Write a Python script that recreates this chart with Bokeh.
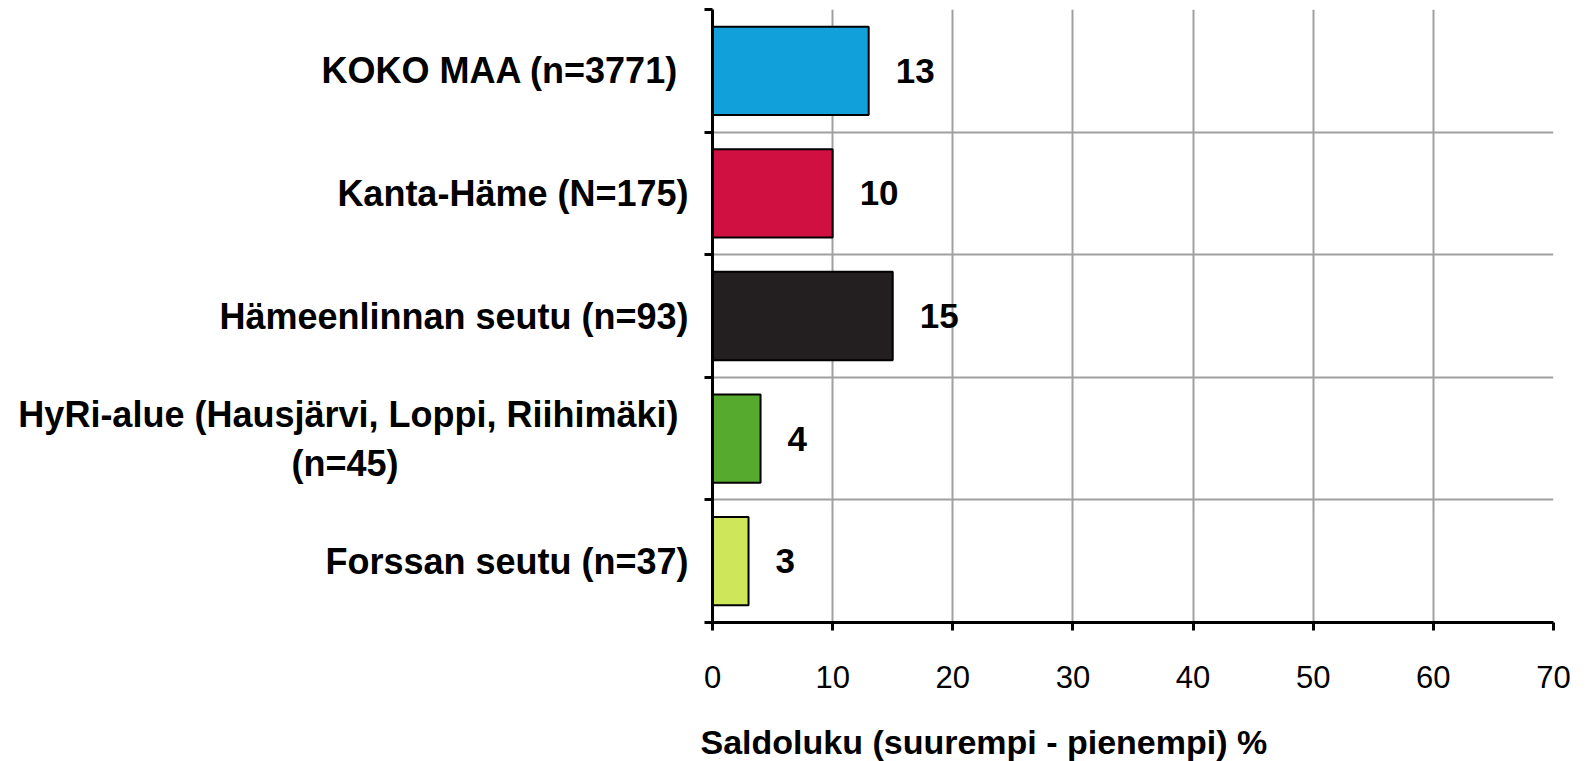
from bokeh.plotting import figure
from bokeh.models import Range1d, FixedTicker, LinearAxis, ColumnDataSource, Title
from bokeh.embed import file_html
from bokeh.resources import INLINE
from bokeh.core.properties import value

categories = [
    "KOKO MAA  (n=3771)",
    "Kanta-Häme (N=175)",
    "Hämeenlinnan seutu (n=93)",
    "HyRi-alue (Hausjärvi, Loppi,  Riihimäki)\n(n=45)",
    "Forssan seutu (n=37)",
]
values = [13, 10, 15, 4, 3]
colors = ["#12A0DA", "#CF1040", "#231F20", "#56AA2E", "#CEE65A"]
x_ticks = [0, 10, 20, 30, 40, 50, 60, 70]
x_title = "Saldoluku (suurempi - pienempi) %"

n = len(categories)
ypos = [n - i - 0.5 for i in range(n)]
labels = [str(v) for v in values]


def centered(label, pad=29):
    # centre the second line under the first (axis labels are right-aligned)
    lines = label.split("\n")
    if len(lines) == 1:
        return label
    return lines[0] + "\n" + lines[1] + "\u00a0" * pad


src = ColumnDataSource(dict(y=ypos, v=values, c=colors, t=labels))

p = figure(width=1582, height=761, output_backend="svg", toolbar_location=None,
           x_range=Range1d(0, 70), y_range=Range1d(0, n),
           min_border_left=712, min_border_right=29, min_border_top=9, min_border_bottom=139,
           outline_line_color=None)
p.xaxis.visible = False
p.yaxis.visible = False

p.hbar(y="y", right="v", left=0, height=0.72, fill_color="c", line_color="black",
       line_width=2, source=src)
p.text(x="v", y="y", text="t", x_offset=27, text_baseline="middle", text_align="left",
       text_font=value("Liberation Sans"), text_font_style="bold", text_font_size="35px",
       text_color="black", source=src)

# grid
p.xgrid.ticker = FixedTicker(ticks=x_ticks)
p.ygrid.ticker = FixedTicker(ticks=list(range(n + 1)))
for g in (p.xgrid, p.ygrid):
    g.grid_line_color = "#A0A0A0"
    g.grid_line_width = 2

xa = LinearAxis(ticker=FixedTicker(ticks=x_ticks), axis_label="\u00a0")
xa.axis_line_color = "black"
xa.axis_line_width = 3
xa.major_tick_out = 8
xa.major_tick_in = 0
xa.major_tick_line_width = 3
xa.minor_tick_out = 0
xa.major_label_text_font = "Liberation Sans"
xa.major_label_text_font_size = "31px"
xa.major_label_text_color = "black"
xa.major_label_standoff = 35
xa.axis_label_standoff = 15
xa.axis_label_text_font_size = "10px"
p.add_layout(xa, "below")

t = Title(text=x_title, align="left", offset=-12, standoff=2,
          text_font="Liberation Sans", text_font_style="bold", text_font_size="34px",
          text_color="black")
p.add_layout(t, "below")

ya = LinearAxis(ticker=FixedTicker(ticks=ypos, minor_ticks=list(range(n + 1))))
ya.major_label_overrides = {y: centered(c) for y, c in zip(ypos, categories)}
ya.axis_line_color = "black"
ya.axis_line_width = 3
ya.major_tick_out = 0
ya.major_tick_in = 0
ya.minor_tick_out = 8
ya.minor_tick_in = 0
ya.minor_tick_line_width = 3
ya.minor_tick_line_color = "black"
ya.major_label_text_font = "Liberation Sans"
ya.major_label_text_font_style = "bold"
ya.major_label_text_font_size = "36px"
ya.major_label_text_color = "black"
ya.major_label_standoff = 16
p.add_layout(ya, "left")

open("out.html", "w").write(file_html(p, INLINE))
